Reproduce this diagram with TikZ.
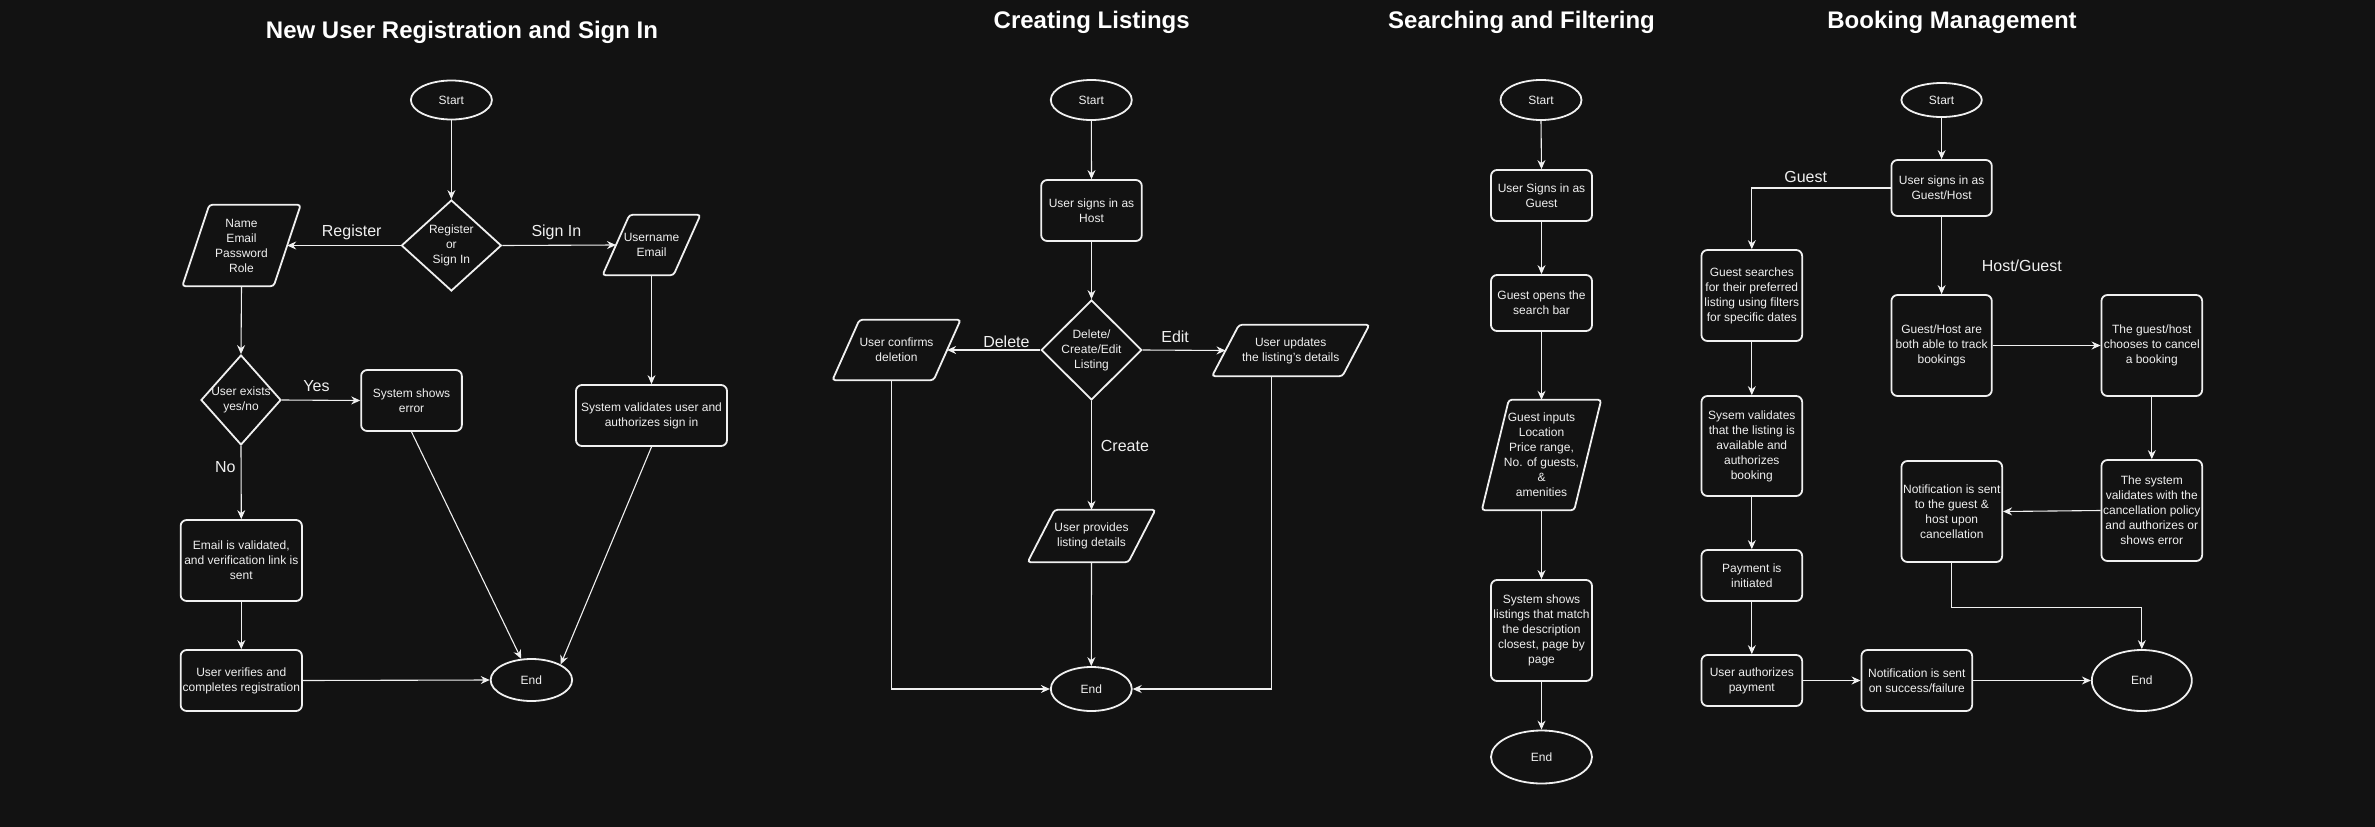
\documentclass[tikz,border=0pt]{standalone}
\usepackage{fontspec}
\setmainfont{Liberation Sans}
\usetikzlibrary{shapes.geometric, arrows.meta}

\definecolor{bgdark}{RGB}{18,18,18}
\definecolor{ink}{RGB}{240,240,240}

\tikzset{
  base/.style={draw=ink, line width=1.8pt, text=ink, align=center, inner sep=1pt,
    font=\fontsize{12}{15}\selectfont},
  terminal/.style={base, ellipse},
  process/.style={base, rectangle, rounded corners=6pt},
  decision/.style={base, diamond, inner sep=-6pt},
  iobox/.style={rectangle, text=ink, align=center, inner sep=0pt,
    font=\fontsize{12}{15}\selectfont},
  outline/.style={draw=ink, line width=1.8pt, rounded corners=3pt},
  flow/.style={draw=ink, line width=1.1pt, -{Stealth[length=9pt, width=8pt, inset=3pt]}},
  tag/.style={text=ink, anchor=base, font=\fontsize{16}{18}\selectfont},
  heading/.style={text=white, anchor=base, font=\bfseries\fontsize{24}{28}\selectfont},
}

\begin{document}
\begin{tikzpicture}[x=1pt, y=-1pt]
    % background
    \fill[bgdark] (0,0) rectangle (2375,827);

    % titles
    \node[heading] (title1) at (462,38)    {New User Registration and Sign In};
    \node[heading] (title2) at (1091.7,28) {Creating Listings};
    \node[heading] (title3) at (1521.5,28) {Searching and Filtering};
    \node[heading] (title4) at (1952,28)   {Booking Management};

    %% registration and sign in
    \node[terminal, minimum width=81, minimum height=39] (start1) at (451.4,100) {Start};
    \node[decision, minimum width=100, minimum height=91] (choice1) at (451.4,245.5) {Register\\or\\Sign In};
    \node[iobox, minimum width=91, minimum height=81] (regin) at (241.5,245.5) {Name\\Email\\Password\\Role};
    \node[iobox, minimum width=70.6, minimum height=60] (signin) at (651.5,245) {Username\\Email};
    \node[decision, minimum width=80, minimum height=90] (exists) at (241,400) {User exists\\yes/no};
    \node[process, minimum width=100.7, minimum height=61] (error1) at (411.5,400.5) {System shows\\error};
    \node[process, minimum width=151, minimum height=61] (validate1) at (651.5,415.5) {System validates user and\\authorizes sign in};
    \node[process, minimum width=121.3, minimum height=81] (link1) at (241.3,560.5) {Email  is validated,\\and verification link is\\sent};
    \node[process, minimum width=121.3, minimum height=61] (verify1) at (241.3,680.5) {User verifies and\\completes registration};
    \node[terminal, minimum width=81.5, minimum height=42] (end1) at (531.4,680) {End};

    \node[tag] (lblreg) at (351.7,236) {Register};
    \node[tag] (lblsign) at (556.4,236) {Sign In};
    \node[tag] (lblyes) at (316.5,391.7) {Yes};
    \node[tag] (lblno) at (225.4,472) {No};

    \draw[flow] (start1.south) -- (choice1.north);
    \draw[flow] (choice1.west) -- (regin.east);
    \draw[flow] (choice1.east) -- (signin.west);
    \draw[flow] (regin.south) -- (exists.north);
    \draw[flow] (exists.east) -- (error1.west);
    \draw[flow] (exists.south) -- (link1.north);
    \draw[flow] (link1.south) -- (verify1.north);
    \draw[flow] (verify1.east) -- (end1.west);
    \draw[flow] (signin.south) -- (validate1.north);
    \draw[flow] (error1.south) -- (end1);
    \draw[flow] (validate1.south) -- (end1.28);

    %% creating listings
    \node[terminal, minimum width=81, minimum height=40] (start2) at (1091.3,100) {Start};
    \node[process, minimum width=100.6, minimum height=61] (host2) at (1091.5,210.5) {User signs in as\\Host};
    \node[decision, minimum width=100.6, minimum height=100] (choice2) at (1091.5,350) {Delete/\\Create/Edit\\Listing};
    \node[iobox, minimum width=100.8, minimum height=60] (delete2) at (896.5,350) {User confirms\\deletion};
    \node[iobox, minimum width=130, minimum height=51] (update2) at (1290.7,350.5) {User updates\\the listing's details};
    \node[iobox, minimum width=100.4, minimum height=52] (create2) at (1091.5,536) {User provides\\listing details};
    \node[terminal, minimum width=81, minimum height=44] (end2) at (1091.3,689) {End};

    \node[tag] (lbldel) at (1006.4,347) {Delete};
    \node[tag] (lbledit) at (1175.1,342) {Edit};
    \node[tag, anchor=base west] (lblcreate) at (1097.4,451) {Create};

    \draw[flow] (start2.south) -- (host2.north);
    \draw[flow] (host2.south) -- (choice2.north);
    \draw[flow] (choice2.west) -- (delete2.east);
    \draw[flow] (choice2.east) -- (update2.west);
    \draw[flow] (choice2.south) -- (create2.north);
    \draw[flow] (create2.south) -- (end2.north);
    \draw[flow] ([xshift=-5]delete2.south) |- (end2.west);
    \draw[flow] ([xshift=-19]update2.south) |- (end2.east);

    %% searching and filtering
    \node[terminal, minimum width=81, minimum height=40] (start3) at (1541,100) {Start};
    \node[process, minimum width=101, minimum height=51] (guest3) at (1541.5,195.5) {User Signs in as\\Guest};
    \node[process, minimum width=101, minimum height=56] (search3) at (1541.5,303) {Guest opens the\\search bar};
    \node[iobox, minimum width=92, minimum height=110] (inputs3) at (1541.5,455) {Guest inputs\\Location\\Price range,\\No. of guests,\\\&\\ amenities};
    \node[process, minimum width=101, minimum height=101] (shows3) at (1541.5,630.5) {System shows\\listings that match\\the description\\closest, page by\\page};
    \node[terminal, minimum width=101, minimum height=53] (end3) at (1541.5,757) {End};

    \draw[flow] (start3.south) -- (guest3.north);
    \draw[flow] (guest3.south) -- (search3.north);
    \draw[flow] (search3.south) -- (inputs3.north);
    \draw[flow] (inputs3.south) -- (shows3.north);
    \draw[flow] (shows3.south) -- (end3.north);

    %% booking management
    \node[terminal, minimum width=80.4, minimum height=34] (start4) at (1941.6,100) {Start};
    \node[process, minimum width=100.4, minimum height=56] (role4) at (1941.6,188) {User signs in as\\Guest/Host};
    \node[process, minimum width=100.7, minimum height=91] (find4) at (1751.8,295.5) {Guest searches\\for their preferred\\listing using filters\\for specific dates};
    \node[process, minimum width=100.4, minimum height=101] (track4) at (1941.6,345.5) {Guest/Host are\\both able to track\\bookings};
    \node[process, minimum width=100.7, minimum height=101] (cancel4) at (2151.8,345.5) {The guest/host\\chooses to cancel\\a booking};
    \node[process, minimum width=100.7, minimum height=100] (avail4) at (1751.8,446) {Sysem validates\\that the listing is\\available and\\authorizes\\booking};
    \node[process, minimum width=100.7, minimum height=101] (policy4) at (2151.8,510.5) {The system\\validates with the\\cancellation policy\\and authorizes or\\shows error};
    \node[process, minimum width=100.7, minimum height=101] (notify4) at (1951.8,511.5) {Notification is sent\\to the guest \&\\host upon\\cancellation};
    \node[process, minimum width=100.7, minimum height=51] (pay4) at (1751.8,575.5) {Payment is\\initiated};
    \node[process, minimum width=100.7, minimum height=51] (auth4) at (1751.8,680.5) {User authorizes\\payment};
    \node[process, minimum width=110.7, minimum height=61] (result4) at (1916.8,680.5) {Notification is sent\\on success/failure};
    \node[terminal, minimum width=100, minimum height=61] (end4) at (2141.8,680.5) {End};

    \node[tag] (lblguest) at (1805.7,182) {Guest};
    \node[tag] (lblboth) at (2021.8,271.7) {Host/Guest};

    \draw[flow] (start4.south) -- (role4.north);
    \draw[flow] (role4.west) -| (find4.north);
    \draw[flow] (role4.south) -- (track4.north);
    \draw[flow] (track4.east) -- (cancel4.west);
    \draw[flow] (cancel4.south) -- (policy4.north);
    \draw[flow] (policy4.west) -- (notify4.east);
    \draw[flow] (notify4.south) -- ++(0,45) -| (end4.north);
    \draw[flow] (find4.south) -- (avail4.north);
    \draw[flow] (avail4.south) -- (pay4.north);
    \draw[flow] (pay4.south) -- (auth4.north);
    \draw[flow] (auth4.east) -- (result4.west);
    \draw[flow] (result4.east) -- (end4.west);

    % the parallelograms
    \foreach \n in {regin, signin, delete2, update2, create2, inputs3}
        \draw[outline] ([xshift=13.5]\n.north west) -- ([xshift=13.5]\n.north east)
            -- ([xshift=-13.5]\n.south east) -- ([xshift=-13.5]\n.south west) -- cycle;
\end{tikzpicture}
\end{document}
